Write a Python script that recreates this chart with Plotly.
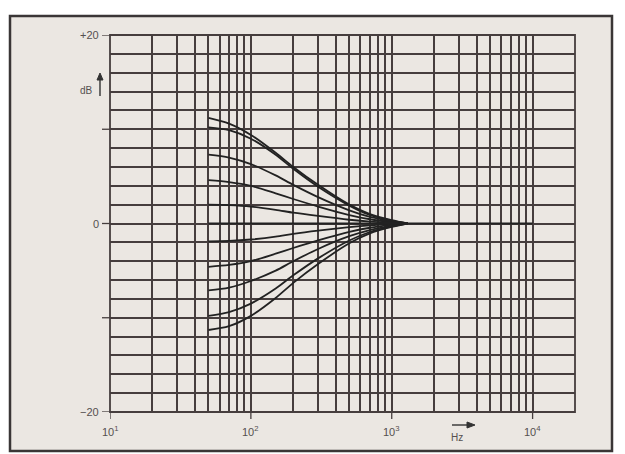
import math
import plotly.graph_objects as go

# ---- data ----
freqs = [50, 70, 100, 150, 200, 300, 500, 700, 1000, 1300]
curve_p1 = [11.2, 10.6, 9.4, 7.5, 6.0, 4.1, 2.0, 1.0, 0.35, 0.0]
curve_p2 = [10.2, 9.9, 9.0, 7.3, 5.8, 3.9, 1.9, 0.9, 0.3, 0.0]
curve_p3 = [7.3, 7.0, 6.3, 5.1, 4.1, 2.8, 1.4, 0.7, 0.25, 0.0]
curve_p4 = [4.6, 4.4, 4.0, 3.2, 2.6, 1.8, 0.9, 0.45, 0.15, 0.0]
curve_p5 = [2.0, 1.95, 1.8, 1.45, 1.15, 0.8, 0.4, 0.2, 0.07, 0.0]
curve_m1 = [-1.9, -1.85, -1.7, -1.4, -1.1, -0.75, -0.38, -0.19, -0.06, 0.0]
curve_m2 = [-4.6, -4.4, -4.0, -3.2, -2.6, -1.8, -0.9, -0.45, -0.15, 0.0]
curve_m3 = [-7.1, -6.8, -6.1, -5.0, -4.0, -2.7, -1.35, -0.7, -0.25, 0.0]
curve_m4 = [-9.8, -9.4, -8.5, -6.9, -5.5, -3.7, -1.8, -0.9, -0.3, 0.0]
curve_m5 = [-11.3, -10.9, -9.8, -7.9, -6.3, -4.3, -2.1, -1.05, -0.37, 0.0]
flat_freqs = [50, 10000]
flat_db = [0, 0]

x_grid = [m * 10 ** e for e in (1, 2, 3) for m in range(1, 10)] + [10000, 20000]
y_grid = list(range(-20, 21, 2))
y_labels = {20: "+20", 0: "0", -20: "\u221220"}
x_decades = [10, 100, 1000, 10000]
x_dec_labels = ["10<sup>1</sup>", "10<sup>2</sup>", "10<sup>3</sup>", "10<sup>4</sup>"]
y_major_ticks = [20, 10, 0, -10, -20]

# ---- figure ----
GRID = "#463e3e"
CURVE = "#222222"
TXT = "#555050"
FONT = "Liberation Sans"

fig = go.Figure()
for ys in [curve_p1, curve_p2, curve_p3, curve_p4, curve_p5,
           curve_m1, curve_m2, curve_m3, curve_m4, curve_m5]:
    fig.add_trace(go.Scatter(x=freqs, y=ys, mode="lines",
                             line=dict(color=CURVE, width=1.8, shape="spline", smoothing=0.8),
                             hoverinfo="skip", showlegend=False))
fig.add_trace(go.Scatter(x=flat_freqs, y=flat_db, mode="lines",
                         line=dict(color=CURVE, width=2.0),
                         hoverinfo="skip", showlegend=False))

# page body has an 8px margin: the figure starts at (8, 8) in the window
OFF = 8
W, H = 625 - OFF, 454 - OFF
L, T = 110 - OFF, 35 - OFF
R, B = 625 - 575, 454 - 412
pw, ph = W - L - R, H - T - B


def px(xp):  # window pixel x -> paper
    return (xp - OFF - L) / pw


def py(yp):  # window pixel y -> paper
    return (H - B - (yp - OFF)) / ph


shapes = []
shapes.append(dict(type="rect", xref="paper", yref="paper",
                   x0=px(10), x1=px(612), y0=py(451), y1=py(16),
                   line=dict(color="#3a3636", width=2.5), fillcolor="#ebe7e2", layer="below"))
shapes.append(dict(type="rect", xref="paper", yref="paper", x0=0, x1=1, y0=0, y1=1,
                   line=dict(color=GRID, width=1.8)))
for v in y_major_ticks:
    shapes.append(dict(type="line", xref="paper", yref="y", x0=px(102), x1=0, y0=v, y1=v,
                       line=dict(color=GRID, width=1.3)))
for v in x_decades:
    shapes.append(dict(type="line", xref="x", yref="paper", x0=v, x1=v, y0=py(419), y1=0,
                       line=dict(color=GRID, width=1.3)))

# unit arrows (dB up, Hz right)
shapes.append(dict(type="line", xref="paper", yref="paper", x0=px(100), x1=px(100),
                   y0=py(96), y1=py(78), line=dict(color="#333", width=1.4)))
shapes.append(dict(type="path", xref="paper", yref="paper",
                   path=f"M {px(97)} {py(80)} L {px(103)} {py(80)} L {px(100)} {py(73)} Z",
                   fillcolor="#333", line=dict(color="#333", width=1)))
shapes.append(dict(type="line", xref="paper", yref="paper", x0=px(452), x1=px(469),
                   y0=py(425), y1=py(425), line=dict(color="#333", width=1.4)))
shapes.append(dict(type="path", xref="paper", yref="paper",
                   path=f"M {px(467)} {py(422)} L {px(467)} {py(428)} L {px(475)} {py(425)} Z",
                   fillcolor="#333", line=dict(color="#333", width=1)))

annotations = []
for v, t in y_labels.items():
    annotations.append(dict(xref="paper", yref="y", x=px(101), y=v, text=t, showarrow=False,
                            xanchor="right", yanchor="middle",
                            font=dict(family=FONT, size=11, color=TXT)))
for v, t in zip(x_decades, x_dec_labels):
    annotations.append(dict(xref="x", yref="paper", x=math.log10(v), y=py(422), text=t,
                            showarrow=False, xanchor="center", yanchor="top",
                            font=dict(family=FONT, size=11, color=TXT)))
annotations.append(dict(xref="paper", yref="paper", x=px(95), y=py(90), text="dB", showarrow=False,
                        xanchor="right", yanchor="middle",
                        font=dict(family=FONT, size=10, color=TXT)))
annotations.append(dict(xref="paper", yref="paper", x=px(457), y=py(438), text="Hz", showarrow=False,
                        xanchor="center", yanchor="middle",
                        font=dict(family=FONT, size=10, color=TXT)))

fig.update_layout(
    width=W, height=H,
    margin=dict(l=L, r=R, t=T, b=B),
    paper_bgcolor="white",
    plot_bgcolor="#f2eeeb",
    shapes=shapes,
    annotations=annotations,
    xaxis=dict(type="log", range=[1, 4.30103], tickvals=x_grid, showticklabels=False,
               showgrid=True, gridcolor=GRID, gridwidth=1.5, zeroline=False, ticks="",
               showline=False),
    yaxis=dict(range=[-20, 20], tickvals=y_grid, showticklabels=False,
               showgrid=True, gridcolor=GRID, gridwidth=1.5, zeroline=False, ticks="",
               showline=False),
)

fig.write_html("out.html")
